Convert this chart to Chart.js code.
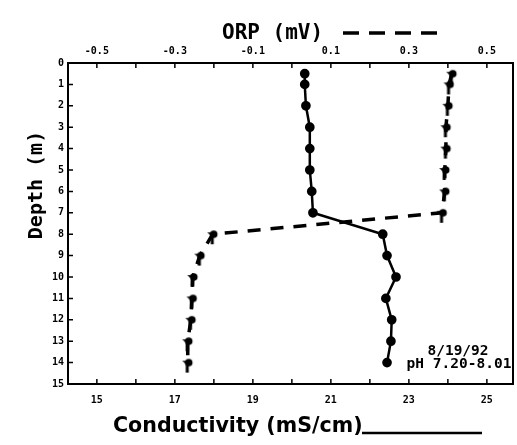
<!DOCTYPE html>
<html>
<head>
<meta charset="utf-8">
<script src="https://cdn.jsdelivr.net/npm/chart.js@4"></script>
<style>
body { margin: 0; background: #fff; }
#wrap { width: 517px; height: 445px; position: relative; }
</style>
</head>
<body>
<div id="wrap"><canvas id="profileChart"></canvas></div>
<script>
// depth profile, 8/19/92
const depthM = [0.5, 1, 2, 3, 4, 5, 6, 7, 8, 9, 10, 11, 12, 13, 14];
const conductivity = [20.33, 20.33, 20.36, 20.46, 20.46, 20.46, 20.51, 20.54, 22.33, 22.44, 22.67, 22.41, 22.56, 22.54, 22.44];
const orp = [0.410, 0.403, 0.400, 0.395, 0.395, 0.392, 0.392, 0.385, -0.203, -0.236, -0.254, -0.256, -0.259, -0.267, -0.267];

const depthTicks = [0, 1, 2, 3, 4, 5, 6, 7, 8, 9, 10, 11, 12, 13, 14, 15];
const condTicks = [15, 16, 17, 18, 19, 20, 21, 22, 23, 24, 25];
const condLabels = [15, 17, 19, 21, 23, 25];
const orpTicks = [-0.5, -0.4, -0.3, -0.2, -0.1, 0, 0.1, 0.2, 0.3, 0.4, 0.5];
const orpLabels = ["-0.5", "-0.3", "-0.1", "0.1", "0.3", "0.5"];

const mono = "'DejaVu Sans Mono', monospace";
const tickFont = { family: mono, size: 10, weight: "bold" };

// little "Y" shaped marker used for ORP, head sits on the data point
function orpMarker() {
    const c = document.createElement("canvas");
    c.width = 15; c.height = 24;
    const g = c.getContext("2d");
    g.fillStyle = "#000";
    g.beginPath(); g.arc(8.5, 12, 3.8, 0, Math.PI * 2); g.fill();
    g.beginPath(); g.moveTo(2, 10); g.lineTo(8, 10.5); g.lineTo(7, 15); g.closePath(); g.fill();
    g.fillRect(5.5, 13, 3, 9);
    return c;
}

const frame = {
    id: "frame",
    afterDraw(chart) {
        const { ctx, chartArea: a, scales } = chart;
        ctx.save();
        ctx.strokeStyle = "#000";
        ctx.fillStyle = "#000";
        ctx.lineWidth = 2;
        ctx.strokeRect(a.left, a.top, a.right - a.left, a.bottom - a.top);

        // inward tick marks
        ctx.lineWidth = 1.5;
        ctx.beginPath();
        condTicks.forEach(v => { const x = scales.x.getPixelForValue(v); ctx.moveTo(x, a.bottom); ctx.lineTo(x, a.bottom - 5); });
        orpTicks.forEach(v => { const x = scales.x2.getPixelForValue(v); ctx.moveTo(x, a.top); ctx.lineTo(x, a.top + 5); });
        depthTicks.forEach(v => { const y = scales.y.getPixelForValue(v); ctx.moveTo(a.left, y); ctx.lineTo(a.left + 5, y); });
        ctx.stroke();

        // top title + dashed key
        ctx.font = "bold 21px " + mono;
        ctx.textAlign = "left";
        ctx.textBaseline = "alphabetic";
        ctx.fillText("ORP (mV)", 222, 39);
        ctx.lineWidth = 3.5;
        ctx.setLineDash([16, 10]);
        ctx.beginPath(); ctx.moveTo(343, 33); ctx.lineTo(437, 33); ctx.stroke();
        ctx.setLineDash([]);

        // bottom title + solid key
        ctx.font = "bold 20.6px 'DejaVu Sans', sans-serif";
        ctx.fillText("Conductivity (mS/cm)", 113, 432);
        ctx.lineWidth = 2.5;
        ctx.beginPath(); ctx.moveTo(362, 433); ctx.lineTo(482, 433); ctx.stroke();

        // left title
        ctx.save();
        ctx.translate(42, 185);
        ctx.rotate(-Math.PI / 2);
        ctx.textAlign = "center";
        ctx.font = "bold 20px " + mono;
        ctx.fillText("Depth (m)", 0, 0);
        ctx.restore();

        // date / pH note
        ctx.textAlign = "center";
        ctx.font = "bold 14.5px " + mono;
        ctx.fillText("8/19/92", 458, 355);
        ctx.fillText("pH 7.20-8.01", 459, 368);
        ctx.restore();
    }
};

new Chart(document.getElementById("profileChart"), {
    type: "scatter",
    data: {
        datasets: [
            {
                label: "Conductivity",
                data: depthM.map((d, i) => ({ x: conductivity[i], y: d })),
                xAxisID: "x",
                showLine: true,
                borderColor: "#000",
                backgroundColor: "#000",
                borderWidth: 2.5,
                pointRadius: 3.6,
                pointStyle: "circle"
            },
            {
                label: "ORP",
                data: depthM.map((d, i) => ({ x: orp[i], y: d })),
                xAxisID: "x2",
                showLine: true,
                borderColor: "#000",
                backgroundColor: "#000",
                borderWidth: 3.5,
                borderDash: [13, 10],
                pointStyle: orpMarker(),
                pointRadius: 6
            }
        ]
    },
    options: {
        responsive: true,
        maintainAspectRatio: false,
        animation: false,
        layout: { autoPadding: false, padding: { left: 0, right: 4, top: 0, bottom: 0 } },
        plugins: { legend: { display: false }, tooltip: { enabled: false } },
        scales: {
            x: {
                type: "linear",
                position: "bottom",
                min: 14.26, max: 25.67,
                afterBuildTicks: s => { s.ticks = condTicks.map(v => ({ value: v })); },
                afterFit: s => { s.height = 61; },
                grid: { display: false, drawTicks: false },
                border: { display: false },
                ticks: {
                    color: "#000", font: tickFont, padding: 10, maxRotation: 0, autoSkip: false,
                    callback: v => condLabels.includes(v) ? String(v) : ""
                }
            },
            x2: {
                type: "linear",
                position: "top",
                min: -0.574, max: 0.567,
                afterBuildTicks: s => { s.ticks = orpTicks.map(v => ({ value: v })); },
                afterFit: s => { s.height = 63; },
                grid: { display: false, drawTicks: false },
                border: { display: false },
                ticks: {
                    color: "#000", font: tickFont, padding: 6, maxRotation: 0, autoSkip: false,
                    callback: v => orpLabels.includes(v.toFixed(1)) ? v.toFixed(1) : ""
                }
            },
            y: {
                type: "linear",
                reverse: true,
                min: 0, max: 15,
                afterBuildTicks: s => { s.ticks = depthTicks.map(v => ({ value: v })); },
                afterFit: s => { s.width = 68; },
                grid: { display: false, drawTicks: false },
                border: { display: false },
                ticks: { color: "#000", font: tickFont, padding: 4, autoSkip: false }
            }
        }
    },
    plugins: [frame]
});
</script>
</body>
</html>
